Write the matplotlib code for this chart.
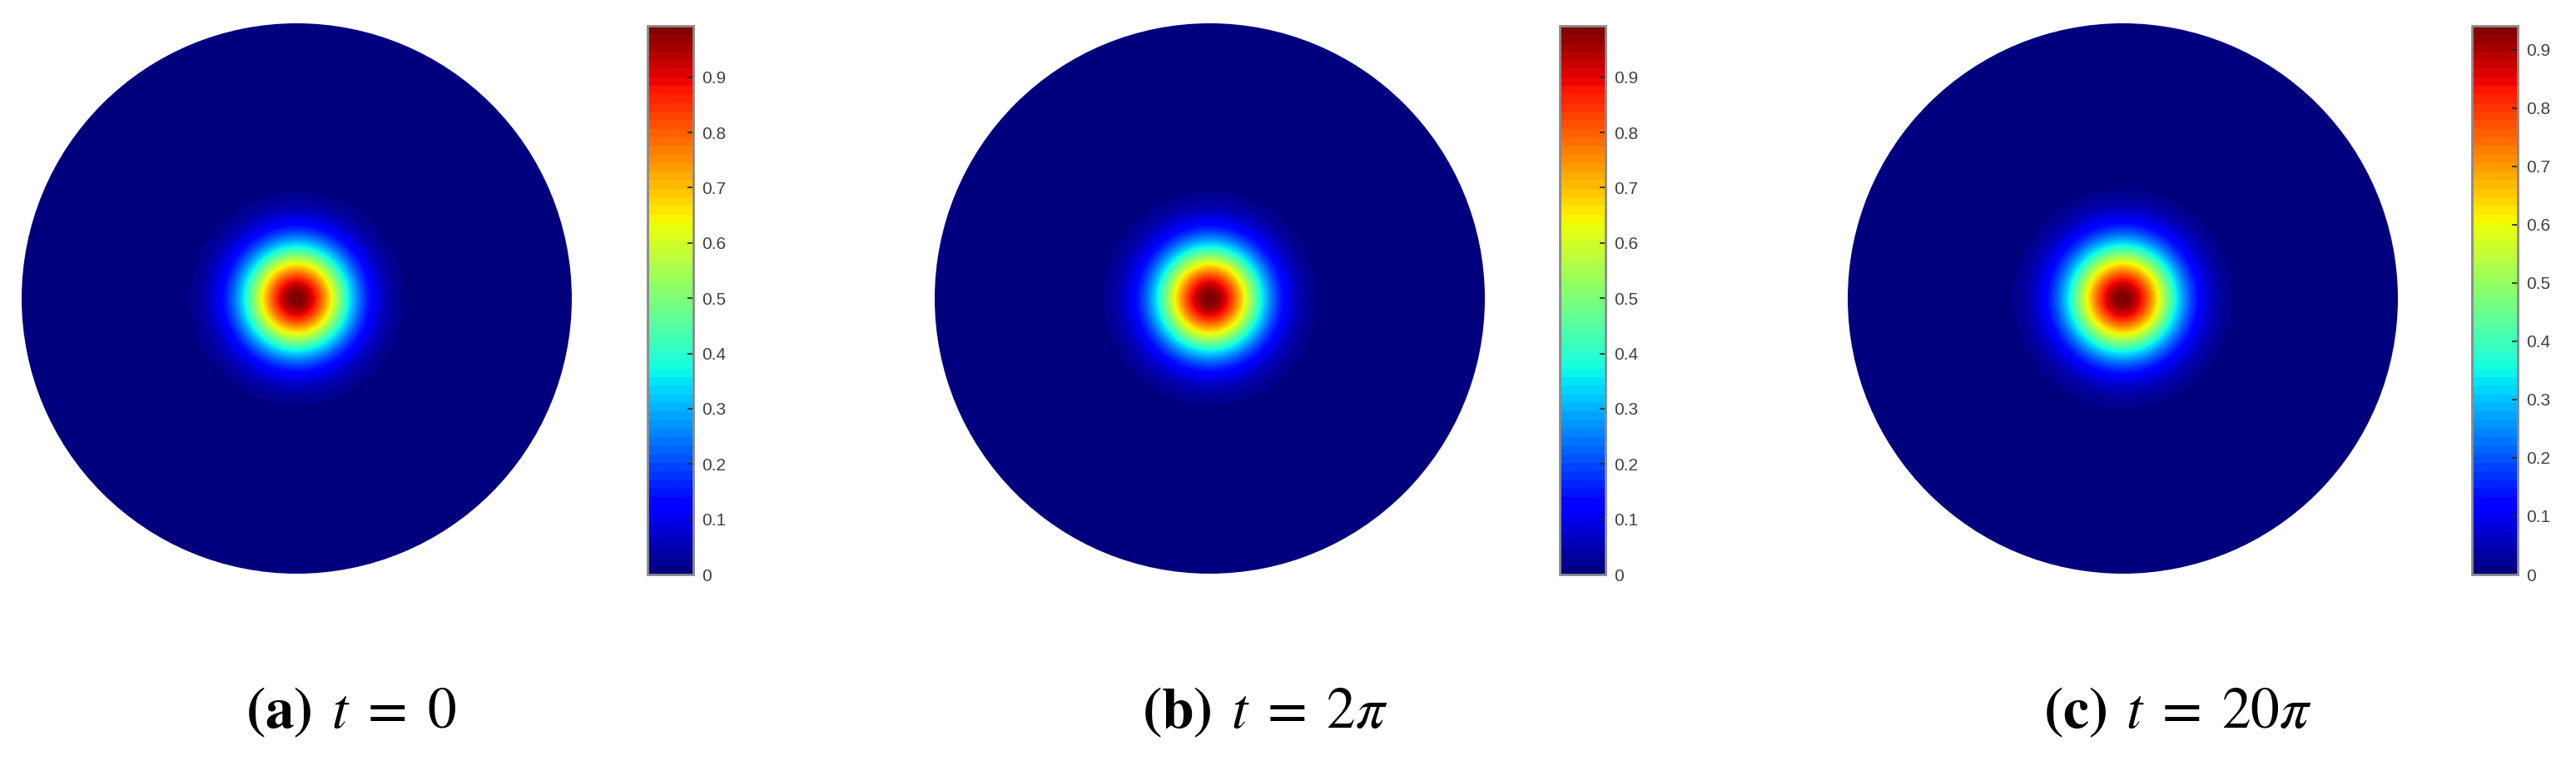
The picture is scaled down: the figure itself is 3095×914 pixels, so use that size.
import numpy as np
import matplotlib
matplotlib.use("Agg")
import matplotlib.pyplot as plt
from matplotlib.patches import Circle
from matplotlib.colors import Normalize

# ---- data ----
panel_labels = ["a", "b", "c"]
time_labels = ["0", "2\\pi", "20\\pi"]
peak_values = [0.993, 0.993, 0.941]      # colorbar maxima / peak of the bump
bump_width = [0.19, 0.19, 0.195]         # width of the bump (disk radius = 1)
cbar_ticks = [0, 0.1, 0.2, 0.3, 0.4, 0.5, 0.6, 0.7, 0.8, 0.9]
cbar_ticklabels = ["0", "0.1", "0.2", "0.3", "0.4", "0.5", "0.6", "0.7", "0.8", "0.9"]

W, H = 3095, 914
fig = plt.figure(figsize=(W / 100, H / 100), dpi=100)
plt.rcParams["mathtext.fontset"] = "stix"

def ax_px(x0, y0, x1, y1):
    return fig.add_axes([x0 / W, 1 - y1 / H, (x1 - x0) / W, (y1 - y0) / H])

disk_boxes = [(26, 28, 687, 689), (1123, 28, 1784, 689), (2220, 28, 2881, 689)]
cbar_boxes = [(778, 31, 833, 690), (1874, 31, 1929, 690), (2970, 31, 3025, 690)]
caption_x = [422, 1520, 2616]

cmap = matplotlib.colormaps["jet"].resampled(64)

n = 700
xs = np.linspace(-1, 1, n)
X, Y = np.meshgrid(xs, xs)
R2 = X ** 2 + Y ** 2

for i in range(3):
    ax = ax_px(*disk_boxes[i])
    Z = peak_values[i] * np.exp(-R2 / bump_width[i] ** 2)
    norm = Normalize(vmin=0, vmax=peak_values[i])
    im = ax.imshow(Z, extent=[-1, 1, -1, 1], origin="lower", cmap=cmap, norm=norm,
                   interpolation="bilinear")
    circ = Circle((0, 0), 1.0, transform=ax.transData, facecolor="none", edgecolor="none")
    ax.add_patch(circ)
    im.set_clip_path(circ)
    ax.set_xlim(-1.0, 1.0)
    ax.set_ylim(-1.0, 1.0)
    ax.set_aspect("auto")
    ax.axis("off")

    cax = ax_px(*cbar_boxes[i])
    cb = fig.colorbar(im, cax=cax, ticks=cbar_ticks)
    cb.ax.set_yticklabels(cbar_ticklabels)
    cb.outline.set_edgecolor("#8a8a8a")
    cb.outline.set_linewidth(2.0)
    cb.ax.tick_params(direction="in", length=5, width=1.2, color="#262626",
                      labelsize=15, labelcolor="#404040", pad=7)
    for lab in cb.ax.get_yticklabels():
        lab.set_fontfamily("Liberation Sans")

    fig.text(caption_x[i] / W, 1 - 855 / H,
             r"$\mathbf{(%s)}$ $t\; =\; %s$" % (panel_labels[i], time_labels[i]),
             ha="center", va="center", fontsize=50)

fig.savefig("out.png", dpi=100, facecolor="white")
